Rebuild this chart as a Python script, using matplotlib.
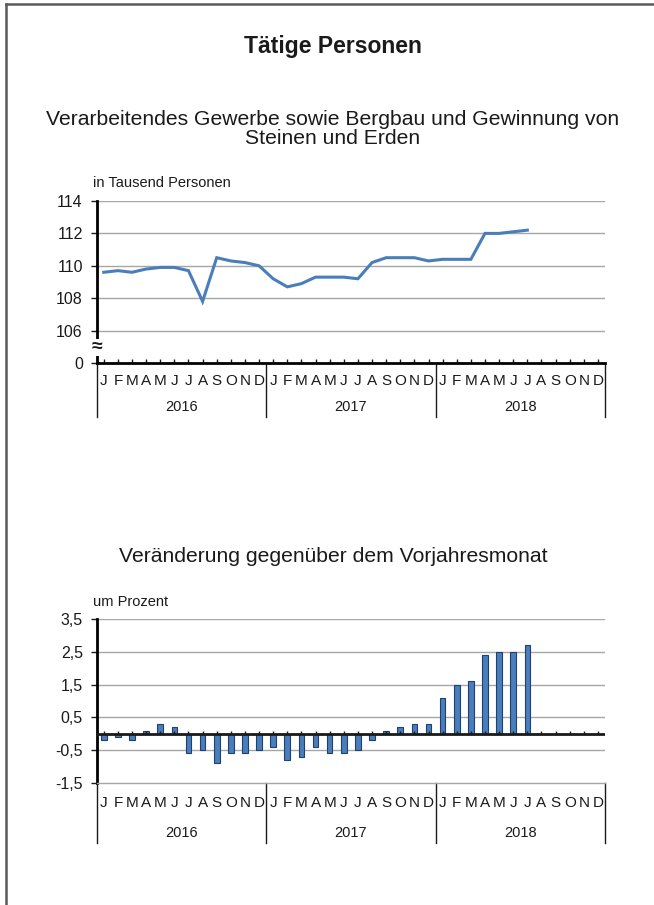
import numpy as np
import matplotlib.pyplot as plt
from matplotlib.lines import Line2D

plt.rcParams['font.family'] = ['Liberation Sans', 'DejaVu Sans']

months = ['J', 'F', 'M', 'A', 'M', 'J', 'J', 'A', 'S', 'O', 'N', 'D'] * 3
years = ['2016', '2017', '2018']

# Tätige Personen, in Tausend (Jan 2016 - Jul 2018)
persons = [109.6, 109.7, 109.6, 109.8, 109.9, 109.9, 109.7, 107.8, 110.5, 110.3, 110.2, 110.0,
           109.2, 108.7, 108.9, 109.3, 109.3, 109.3, 109.2, 110.2, 110.5, 110.5, 110.5, 110.3,
           110.4, 110.4, 110.4, 112.0, 112.0, 112.1, 112.2]

# Veränderung gegenüber Vorjahresmonat, in %
change = [-0.2, -0.1, -0.2, 0.1, 0.3, 0.2, -0.6, -0.5, -0.9, -0.6, -0.6, -0.5,
          -0.4, -0.8, -0.7, -0.4, -0.6, -0.6, -0.5, -0.2, 0.1, 0.2, 0.3, 0.3,
          1.1, 1.5, 1.6, 2.4, 2.5, 2.5, 2.7]

line_ticks = [104, 106, 108, 110, 112, 114]
line_ticklabels = ['0', '106', '108', '110', '112', '114']
bar_ticks = [-1.5, -0.5, 0.5, 1.5, 2.5, 3.5]
bar_ticklabels = ['-1,5', '-0,5', '0,5', '1,5', '2,5', '3,5']

W, H = 654, 905
fig = plt.figure(figsize=(W / 100, H / 100), dpi=100)

# frame
fig.add_artist(Line2D([6 / W, 6 / W], [0, 1 - 4 / H], color='#5a5a5a', lw=1.8))
fig.add_artist(Line2D([6 / W, 1], [1 - 4 / H, 1 - 4 / H], color='#5a5a5a', lw=1.8))

cx = 333 / W
fig.text(cx, 1 - 47 / H, 'Tätige Personen', ha='center', va='center',
         fontsize=16.5, fontweight='bold', color='#1a1a1a')
fig.text(cx, 1 - 129 / H,
         'Verarbeitendes Gewerbe sowie Bergbau und Gewinnung von\nSteinen und Erden',
         ha='center', va='center', fontsize=15.2, color='#1a1a1a', linespacing=0.95)
fig.text(cx, 1 - 556 / H, 'Veränderung gegenüber dem Vorjahresmonat',
         ha='center', va='center', fontsize=15.2, color='#1a1a1a')
fig.text(93 / W, 1 - 183 / H, 'in Tausend Personen', ha='left', va='center',
         fontsize=10.5, color='#1a1a1a')
fig.text(93 / W, 1 - 602 / H, 'um Prozent', ha='left', va='center',
         fontsize=10.5, color='#1a1a1a')

x = np.arange(len(persons))
grid_c = '#a6a6a6'
line_c = '#4a7ebb'
left, width = 96.7 / W, (605 - 96.7) / W


def category_axis(ax, month_off, year_off, sep_len):
    # month labels, year labels and year separators below the axis
    axh = ax.get_position().height * H
    for i, m in enumerate(months):
        ax.text(i, -month_off / axh, m, transform=ax.get_xaxis_transform(),
                ha='center', va='center', fontsize=11, color='#1a1a1a')
    for k, y in enumerate(years):
        ax.text(12 * k + 5.5, -year_off / axh, y, transform=ax.get_xaxis_transform(),
                ha='center', va='center', fontsize=10.5, color='#1a1a1a')
    for b in [-0.5, 11.5, 23.5, 35.5]:
        ax.plot([b, b], [0, -sep_len / axh], transform=ax.get_xaxis_transform(),
                color='#1a1a1a', lw=1, clip_on=False)


# ---- line chart ----
ax1 = fig.add_axes([left, 1 - 363 / H, width, (363 - 201) / H])
for t in line_ticks[1:]:
    ax1.axhline(t, color=grid_c, lw=1, zorder=0)
ax1.plot(x, persons, color=line_c, lw=2.2, solid_joinstyle='miter')
ax1.set_xlim(-0.5, 35.5)
ax1.set_ylim(104, 114)
ax1.set_yticks(line_ticks)
ax1.set_yticklabels(line_ticklabels)
ax1.set_xticks(np.arange(36))
ax1.set_xticklabels([])
ax1.tick_params(axis='x', direction='in', length=3, width=1, color='#1a1a1a')
ax1.tick_params(axis='y', direction='out', length=4, width=1, labelsize=11.5,
                color='#1a1a1a', labelcolor='#1a1a1a', pad=6)
for s in ['top', 'right']:
    ax1.spines[s].set_visible(False)
ax1.spines['left'].set_linewidth(2)
ax1.spines['bottom'].set_linewidth(2)
ax1.text(0, 104.95, '≈', transform=ax1.get_yaxis_transform(), ha='center',
         va='center', fontsize=14, fontweight='bold', color='#1a1a1a',
         bbox=dict(facecolor='white', edgecolor='none', pad=0))
category_axis(ax1, 18, 44, 54)

# ---- bar chart ----
ax2 = fig.add_axes([left, 1 - 783 / H, width, (783 - 619) / H])
for t in bar_ticks[1:]:
    ax2.axhline(t, color=grid_c, lw=1, zorder=0)
ax2.bar(x, change, width=0.4, color='#4a7ebb', edgecolor='#1f3f6e', lw=0.8, zorder=2)
ax2.axhline(0, color='#1a1a1a', lw=2, zorder=3)
ax2.vlines(np.arange(36), 0, 0.09, color='#1a1a1a', lw=1, zorder=3)
ax2.set_xlim(-0.5, 35.5)
ax2.set_ylim(-1.5, 3.5)
ax2.set_yticks(bar_ticks)
ax2.set_yticklabels(bar_ticklabels)
ax2.set_xticks([])
ax2.tick_params(axis='y', direction='out', length=4, width=1, labelsize=11.5,
                color='#1a1a1a', labelcolor='#1a1a1a', pad=6)
for s in ['top', 'right']:
    ax2.spines[s].set_visible(False)
ax2.spines['left'].set_linewidth(2)
ax2.spines['bottom'].set_color(grid_c)
ax2.spines['bottom'].set_linewidth(1)
category_axis(ax2, 20, 50, 60)

fig.savefig('out.png', dpi=100)
